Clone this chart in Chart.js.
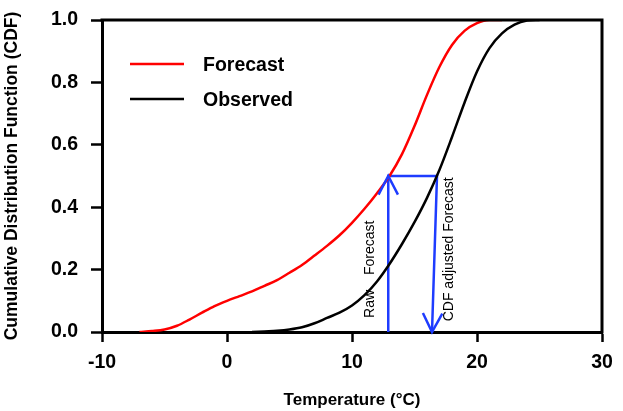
<!DOCTYPE html>
<html>
<head>
<meta charset="utf-8">
<script src="https://cdn.jsdelivr.net/npm/chart.js@4"></script>
<style>
html,body{margin:0;padding:0;background:#fff;}
#wrap{width:623px;height:411px;position:relative;}
</style>
</head>
<body>
<div id="wrap"><canvas id="c"></canvas></div>
<script>
// Data
const forecastT   = [-7,-6,-5,-4,-3,-2,-1,0,1,2,3,4,5,6,7,8,9,10,11,12,13,14,15,16,17,18,19,20,21,22];
const forecastCDF = [0,0.003,0.008,0.02,0.04,0.062,0.083,0.1,0.115,0.13,0.148,0.166,0.19,0.215,0.245,0.276,0.31,0.35,0.395,0.445,0.5,0.57,0.66,0.76,0.85,0.92,0.965,0.99,1.0,1.0];
const observedT   = [2,3,4,5,6,7,8,9,10,11,12,13,14,15,16,17,18,19,20,21,22,23,24,25];
const observedCDF = [0,0.002,0.004,0.008,0.015,0.028,0.045,0.062,0.085,0.118,0.162,0.218,0.282,0.352,0.43,0.52,0.625,0.735,0.835,0.91,0.957,0.985,0.998,1.0];
const arrowT      = [12.9,12.9,16.8,16.4];
const arrowCDF    = [0,0.5,0.5,0];
const xTicks = [-10,0,10,20,30];
const yTicks = [0,0.2,0.4,0.6,0.8,1.0];
const seriesNames = ['Forecast','Observed'];
const xTitle = 'Temperature (\u00B0C)';
const yTitle = 'Cumulative Distribution Function (CDF)';

const RED = '#ff0000', BLACK = '#000000', BLUE = '#1e3cff';
const FONT = '"Liberation Sans", Arial, sans-serif';
const zip = (xs, ys) => xs.map((x,i)=>({x:x,y:ys[i]}));

const extras = {
  id:'extras',
  afterDatasetsDraw(chart){
    const {ctx, chartArea:a, scales:{x,y}} = chart;
    ctx.save();
    // frame top & right
    ctx.strokeStyle = BLACK; ctx.lineWidth = 3; ctx.lineCap='square';
    ctx.beginPath();
    ctx.moveTo(a.left, a.top); ctx.lineTo(a.right, a.top); ctx.lineTo(a.right, a.bottom);
    ctx.stroke();
    // arrowheads
    const meta = chart.getDatasetMeta(2).data;
    function head(tip, from){
      const ang = Math.atan2(tip.y-from.y, tip.x-from.x);
      const L = 21, sp = 0.48;
      ctx.beginPath();
      ctx.moveTo(tip.x - L*Math.cos(ang-sp), tip.y - L*Math.sin(ang-sp));
      ctx.lineTo(tip.x, tip.y);
      ctx.lineTo(tip.x - L*Math.cos(ang+sp), tip.y - L*Math.sin(ang+sp));
      ctx.stroke();
    }
    ctx.strokeStyle = BLUE; ctx.lineWidth = 2.5; ctx.lineCap='butt'; ctx.lineJoin='miter';
    head(meta[1], meta[0]);
    head(meta[3], meta[2]);
    // rotated annotations
    ctx.fillStyle = BLACK;
    ctx.font = '14px ' + FONT;
    ctx.textAlign='center'; ctx.textBaseline='middle';
    function vtext(t, px, py){
      ctx.save(); ctx.translate(px, py); ctx.rotate(-Math.PI/2); ctx.fillText(t,0,0); ctx.restore();
    }
    vtext('Raw', x.getPixelForValue(12.9)-18, y.getPixelForValue(0.09));
    vtext('Forecast', x.getPixelForValue(12.9)-18, y.getPixelForValue(0.27));
    vtext('CDF adjusted Forecast', x.getPixelForValue(17.8), y.getPixelForValue(0.265));
    // legend
    ctx.font = 'bold 19.5px ' + FONT;
    ctx.textAlign='left';
    const cols=[RED,BLACK], ys=[a.top+44, a.top+79];
    seriesNames.forEach((n,i)=>{
      ctx.strokeStyle = cols[i]; ctx.lineWidth = 2.5;
      ctx.beginPath(); ctx.moveTo(a.left+28, ys[i]); ctx.lineTo(a.left+82, ys[i]); ctx.stroke();
      ctx.fillText(n, a.left+101, ys[i]+2);
    });
    ctx.restore();
  }
};

new Chart(document.getElementById('c'), {
  type:'line',
  data:{
    datasets:[
      {label:seriesNames[0], data:zip(forecastT,forecastCDF), borderColor:RED, borderWidth:2.5, pointRadius:0, cubicInterpolationMode:'monotone', fill:false},
      {label:seriesNames[1], data:zip(observedT,observedCDF), borderColor:BLACK, borderWidth:2.5, pointRadius:0, cubicInterpolationMode:'monotone', fill:false},
      {label:'arrow', data:zip(arrowT,arrowCDF), borderColor:BLUE, borderWidth:2.5, pointRadius:0, tension:0, fill:false, borderJoinStyle:'miter'}
    ]
  },
  options:{
    responsive:true, maintainAspectRatio:false, animation:false,
    layout:{padding:{top:20,right:21,left:0,bottom:0}},
    plugins:{legend:{display:false}, tooltip:{enabled:false}},
    scales:{
      x:{type:'linear', min:-10, max:30,
        afterBuildTicks(s){ s.ticks = xTicks.map(v=>({value:v})); },
        afterFit(s){ s.height = 79; s.paddingLeft = 0; s.paddingRight = 0; },
        ticks:{color:BLACK, font:{family:FONT, size:19.5, weight:'bold'}, padding:9, maxRotation:0},
        grid:{drawOnChartArea:false, drawTicks:true, tickLength:10, tickWidth:2.5, tickColor:BLACK},
        border:{display:true, color:BLACK, width:3},
        title:{display:true, text:xTitle, color:BLACK, font:{family:FONT, size:17, weight:'bold'}, padding:{top:0,bottom:0}}
      },
      y:{type:'linear', min:0, max:1,
        afterBuildTicks(s){ s.ticks = yTicks.map(v=>({value:v})); },
        afterFit(s){ s.width = 102; s.paddingTop = 0; s.paddingBottom = 0; },
        ticks:{color:BLACK, font:{family:FONT, size:19.5, weight:'bold'}, padding:13, callback:v=>v.toFixed(1)},
        grid:{drawOnChartArea:false, drawTicks:true, tickLength:11, tickWidth:2.5, tickColor:BLACK},
        border:{display:true, color:BLACK, width:3},
        title:{display:true, text:yTitle, color:BLACK, font:{family:FONT, size:17.5, weight:'bold'}, padding:{top:2,bottom:0}}
      }
    }
  },
  plugins:[extras]
});
</script>
</body>
</html>
